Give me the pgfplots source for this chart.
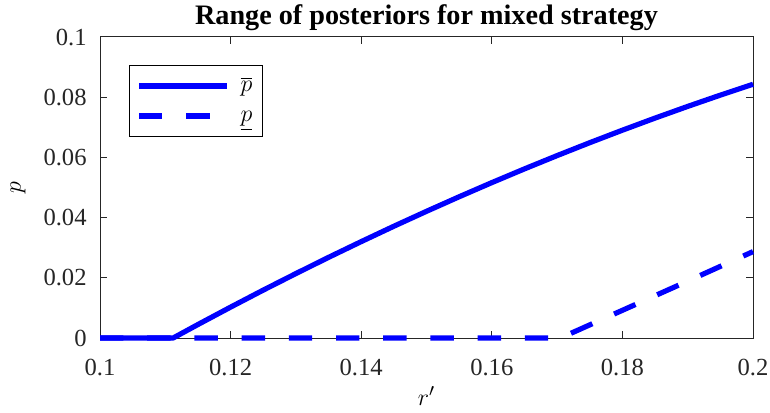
\documentclass[border=0pt]{standalone}
\usepackage{pgfplots}
\pgfplotsset{compat=1.18}
\usepackage{fontspec}
\setmainfont{Liberation Serif}
\definecolor{axgray}{gray}{0.15}
\definecolor{mblue}{rgb}{0,0,1}
\begin{document}
\begin{tikzpicture}
\begin{axis}[
  at={(0pt,0pt)}, anchor=south west,
  scale only axis, width=326.5pt, height=150.5pt,
  xmin=0.1, xmax=0.2, ymin=0, ymax=0.1,
  xtick={0.1,0.12,0.14,0.16,0.18,0.2},
  ytick={0,0.02,0.04,0.06,0.08,0.1},
  xticklabels={0.1,0.12,0.14,0.16,0.18,0.2},
  yticklabels={0,0.02,0.04,0.06,0.08,0.1},
  tick align=inside, major tick length=3.5pt,
  axis line style={axgray, line width=0.5pt},
  every tick/.style={axgray, line width=0.5pt},
  tick label style={font=\fontsize{12.3}{14}\selectfont, text=axgray},
  xticklabel style={anchor=base, inner sep=0pt, text depth=0pt, yshift=-18.5pt},
  yticklabel style={anchor=east, inner xsep=0pt, xshift=-6.5pt},
  clip=false,
  title={\textbf{Range of posteriors for mixed strategy}},
  title style={font=\fontsize{14.1}{16}\selectfont, inner sep=0pt, text height=10pt, text depth=0pt, at={(axis description cs:0.5,1)}, anchor=base},
  xlabel={$r'$},
  xlabel style={font=\fontsize{12.3}{14}\selectfont, inner sep=0pt, text depth=0pt, at={(axis description cs:0.5,0)}, anchor=base, yshift=-33.5pt},
  ylabel={$p$},
  ylabel style={font=\fontsize{12.3}{14}\selectfont, inner sep=0pt, at={(axis description cs:0,0.5)}, anchor=center, yshift=41pt},
  legend style={at={(axis description cs:0.0444,0.907)}, anchor=north west,
    draw=black, line width=0.5pt, inner xsep=3.5pt, inner ysep=2.75pt,
    font=\fontsize{12.3}{14}\selectfont,
    row sep=0pt, column sep=4pt,
    nodes={text height=9pt, text depth=3pt, inner sep=1.5pt}},
  legend cell align=left,
  legend image code/.code={\draw[#1] (0pt,0pt) -- (44pt,0pt);},
]
\addplot[mblue, line width=2.6pt, line join=round] coordinates {
(0.1,0) (0.1112,0) (0.115,0.00448) (0.12,0.01026) (0.125,0.01591)
(0.13,0.02141) (0.135,0.02679) (0.14,0.03202) (0.145,0.03713)
(0.15,0.04209) (0.155,0.04692) (0.16,0.05162) (0.165,0.05618)
(0.17,0.0606) (0.175,0.06489) (0.18,0.06904) (0.185,0.07306)
(0.19,0.07694) (0.195,0.08069) (0.2,0.0843)
};
\addlegendentry{$\overline{p}$\hspace{1pt}}
\addplot[mblue, line width=2.6pt, dash pattern=on 11.7pt off 11.9pt] coordinates {
(0.1,0) (0.1705,0) (0.18,0.0092) (0.19,0.0189) (0.2,0.0287)
};
\addlegendentry{$\underline{p}$\hspace{1pt}}
\end{axis}
\useasboundingbox (-50pt,-37pt) rectangle (335pt,169pt);
\end{tikzpicture}
\end{document}
